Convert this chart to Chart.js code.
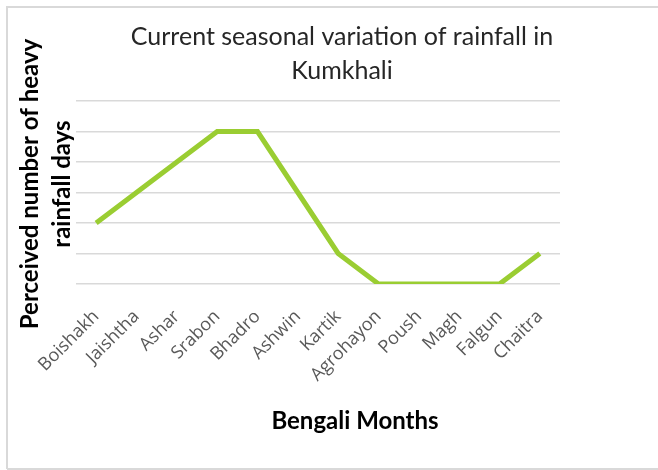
<!DOCTYPE html>
<html>
<head>
<meta charset="utf-8">
<script src="https://cdn.jsdelivr.net/npm/chart.js@4"></script>
<style>
  html, body { margin: 0; padding: 0; background: #fff; overflow: hidden; }
</style>
</head>
<body>
<canvas id="rainChart" width="658" height="470"></canvas>
<script>
let months = ["Boishakh", "Jaishtha", "Ashar", "Srabon", "Bhadro", "Ashwin",
  "Kartik", "Agrohayon", "Poush", "Magh", "Falgun", "Chaitra"];
let heavyDays = [2, 3, 4, 5, 5, 3, 1, 0, 0, 0, 0, 1];
let yTicks = [0, 1, 2, 3, 4, 5, 6];

let chartTitle = ["Current seasonal variation of rainfall in", "Kumkhali"];
let yTitle = ["Perceived number of heavy", "rainfall days"];
let xTitle = "Bengali Months";

let lineColor = "rgb(154, 205, 50)";
let gridColor = "#d9d9d9";

// white page, grey frame and the three titles (placed like the Excel chart)
const decor = {
  id: "decor",
  beforeDraw(chart) {
    const c = chart.ctx;
    c.save();
    c.fillStyle = "#fff";
    c.fillRect(0, 0, chart.width, chart.height);
    c.strokeStyle = gridColor;
    c.lineWidth = 2;
    c.beginPath();
    c.moveTo(7, 469); c.lineTo(7, 7); c.lineTo(chart.width, 7);
    c.moveTo(7, 469); c.lineTo(chart.width, 469);
    c.stroke();
    c.restore();
  },
  afterDraw(chart) {
    const c = chart.ctx;
    c.save();
    c.textAlign = "center";
    c.textBaseline = "middle";

    c.fillStyle = "#262626";
    c.font = "25px Lato";
    c.fillText(chartTitle[0], 342, 37);
    c.fillText(chartTitle[1], 342, 71);

    c.fillStyle = "#000";
    c.font = "bold 24px Lato";
    c.fillText(xTitle, 355, 421);

    c.translate(0, 184);
    c.rotate(-Math.PI / 2);
    c.fillText(yTitle[0], 0, 30);
    c.fillText(yTitle[1], 0, 62);
    c.restore();
  }
};

new Chart(document.getElementById("rainChart"), {
  type: "line",
  data: {
    labels: months,
    datasets: [{
      label: "Heavy rainfall days",
      data: heavyDays,
      borderColor: lineColor,
      borderWidth: 5,
      pointRadius: 0,
      tension: 0,
      fill: false
    }]
  },
  options: {
    responsive: false,
    animation: false,
    layout: { padding: { left: 0, right: 98, top: 101, bottom: 0 } },
    plugins: {
      legend: { display: false },
      tooltip: { enabled: false },
      title: { display: false }
    },
    scales: {
      x: {
        offset: true,
        grid: { display: false },
        border: { display: false },
        ticks: {
          color: "#595959",
          font: { family: "Open Sans", size: 18 },
          maxRotation: 45,
          minRotation: 45,
          autoSkip: false,
          padding: 14
        },
        afterFit(scale) { scale.height = 186; }
      },
      y: {
        min: yTicks[0],
        max: yTicks[yTicks.length - 1],
        afterBuildTicks(scale) { scale.ticks = yTicks.map(v => ({ value: v })); },
        grid: { color: gridColor, lineWidth: 1.5, drawTicks: false },
        border: { display: false },
        ticks: { display: false },
        afterFit(scale) { scale.width = 76; }
      }
    }
  },
  plugins: [decor]
});
</script>
</body>
</html>
